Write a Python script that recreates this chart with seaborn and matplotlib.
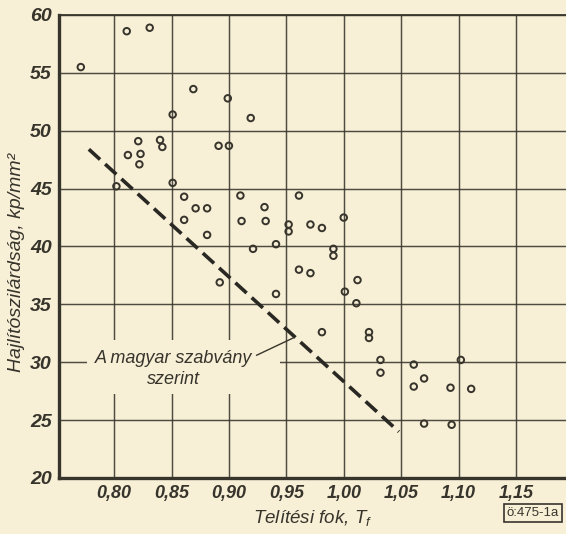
import matplotlib
matplotlib.use("Agg")
import matplotlib.pyplot as plt
from matplotlib import font_manager
from matplotlib.patches import Rectangle
import seaborn as sns
import pandas as pd

# ---- data ----
saturation = [0.771, 0.811, 0.831, 0.869, 0.899, 0.851, 0.919, 0.821, 0.840, 0.842,
              0.891, 0.900, 0.812, 0.823, 0.822, 0.802, 0.851, 0.861, 0.910, 0.961,
              0.871, 0.881, 0.931, 0.861, 0.911, 0.932, 0.952, 0.952, 0.971, 0.881,
              0.941, 0.921, 0.961, 0.971, 0.892, 0.941, 0.981, 1.000, 0.991, 0.991,
              1.012, 1.001, 1.011, 0.981, 1.022, 1.022, 1.032, 1.032, 1.061, 1.102,
              1.070, 1.061, 1.093, 1.111, 1.070, 1.094]
strength = [55.5, 58.6, 58.9, 53.6, 52.8, 51.4, 51.1, 49.1, 49.2, 48.6,
            48.7, 48.7, 47.9, 48.0, 47.1, 45.2, 45.5, 44.3, 44.4, 44.4,
            43.3, 43.3, 43.4, 42.3, 42.2, 42.2, 41.9, 41.3, 41.9, 41.0,
            40.2, 39.8, 38.0, 37.7, 36.9, 35.9, 41.6, 42.5, 39.8, 39.2,
            37.1, 36.1, 35.1, 32.6, 32.6, 32.1, 30.2, 29.1, 29.8, 30.2,
            28.6, 27.9, 27.8, 27.7, 24.7, 24.6]
standard_x = [0.778, 1.048]
standard_y = [48.4, 24.0]
x_ticks = [0.80, 0.85, 0.90, 0.95, 1.00, 1.05, 1.10, 1.15]
x_ticklabels = ["0,80", "0,85", "0,90", "0,95", "1,00", "1,05", "1,10", "1,15"]
y_ticks = [20, 25, 30, 35, 40, 45, 50, 55, 60]
x_label = "Telítési fok"
y_label = "Hajlítószilárdság, kp/mm²"
annotation = "A magyar szabvány\nszerint"
stamp = "ö:475-1a"

BG = "#f7efd6"
INK = "#37342c"

avail = {f.name for f in font_manager.fontManager.ttflist}
if "Liberation Sans Narrow" in avail:
    FONT = "Liberation Sans Narrow"
elif "Liberation Sans" in avail:
    FONT = "Liberation Sans"
else:
    FONT = "DejaVu Sans"

sns.set_theme(style="white")
plt.rcParams["font.family"] = [FONT, "DejaVu Sans"]
plt.rcParams["mathtext.fontset"] = "custom"
plt.rcParams["mathtext.it"] = f"{FONT}:italic"
plt.rcParams["mathtext.rm"] = f"{FONT}"

fig = plt.figure(figsize=(5.66, 5.34), dpi=100, facecolor=BG)
ax = fig.add_axes([59 / 566, 1 - 478 / 534, 1 - 59 / 566, (478 - 15) / 534])
ax.set_facecolor(BG)

df = pd.DataFrame({"x": saturation, "y": strength})
line_df = pd.DataFrame({"x": standard_x, "y": standard_y})

ax.set_xlim(0.752, 1.1936)
ax.set_ylim(20, 60)
ax.set_xticks(x_ticks)
ax.set_yticks(y_ticks)
ax.grid(True, color=INK, linewidth=1.05, alpha=0.88)
ax.set_axisbelow(True)

sns.lineplot(data=line_df, x="x", y="y", ax=ax, color="#2a2823", linewidth=2.6,
             zorder=3)
ax.lines[-1].set_dashes((4.2, 1.9))
sns.scatterplot(data=df, x="x", y="y", ax=ax, marker="o", s=22,
                facecolor="none", edgecolor=INK, linewidth=1.4, zorder=4)

# text box interrupting the grid
ax.add_patch(Rectangle((0.7765, 27.3), 0.168, 4.6, facecolor=BG, edgecolor="none",
                       zorder=2))
ax.text(0.852, 29.4, annotation, ha="center", va="center", fontsize=13,
        style="italic", color=INK, zorder=5, linespacing=1.3)
ax.plot([0.924, 0.956], [30.6, 32.1], color=INK, linewidth=1.0, zorder=5)

ax.set_xticklabels(x_ticklabels, fontsize=13, style="italic", color=INK,
                   fontweight="bold")
ax.set_yticklabels([str(v) for v in y_ticks], fontsize=14, style="italic",
                   color=INK, fontweight="bold")
ax.tick_params(length=0, pad=5)
ax.set_xlabel(x_label + r", $T_f$", fontsize=13.5, style="italic", color=INK,
              labelpad=4)
ax.set_ylabel(y_label, fontsize=14, style="italic", color=INK)
ax.yaxis.set_label_coords(-0.068, 0.466)

for side in ["left", "bottom"]:
    ax.spines[side].set_visible(True)
    ax.spines[side].set_color(INK)
    ax.spines[side].set_linewidth(2.4)
ax.spines["top"].set_visible(True)
ax.spines["top"].set_color(INK)
ax.spines["top"].set_linewidth(1.3)
ax.spines["right"].set_visible(False)

fig.text(533 / 566, 1 - 513 / 534, stamp, ha="center", va="center", fontsize=9.5,
         color=INK, bbox=dict(boxstyle="square,pad=0.2", facecolor=BG,
                              edgecolor=INK, linewidth=1.2))

fig.savefig("out.png", dpi=100, facecolor=BG)
